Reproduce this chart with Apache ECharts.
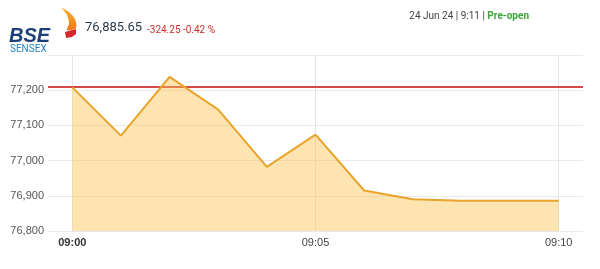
<!DOCTYPE html>
<html>
<head>
<meta charset="utf-8">
<script src="https://cdn.jsdelivr.net/npm/echarts@6/dist/echarts.min.js"></script>
<style>html,body{margin:0;padding:0;background:#fff;}#c{width:600px;height:269px;}</style>
</head>
<body>
<div id="c"></div>
<script>
var times = ['09:00','09:01','09:02','09:03','09:04','09:05','09:06','09:07','09:08','09:09','09:10'];
var values = [77208, 77071, 77238, 77145, 76982, 77074, 76915, 76890, 76886, 76886, 76885.65];
var xTickLabels = ['09:00','09:05','09:10'];
var yTicks = [76800, 76900, 77000, 77100, 77200, 77300];
var prevClose = 77209.90;
var lastPrice = '76,885.65';
var change = '-324.25 -0.42 %';
var stamp = '24 Jun 24 | 9:11 | ';
var session = 'Pre-open';

var chart = echarts.init(document.getElementById('c'), null, {renderer: 'canvas'});
var seriesData = times.map(function (t, i) { return [i, values[i]]; });
var xTickIdx = xTickLabels.map(function (l) { return times.indexOf(l); });

chart.setOption({
  animation: false,
  grid: {left: 48, right: 17, top: 55, bottom: 38},
  xAxis: {
    type: 'value', min: -0.5, max: 10.5,
    axisLine: {show: false}, axisTick: {show: false}, splitLine: {show: false},
    axisLabel: {
      customValues: xTickIdx,
      margin: 6,
      color: '#444', fontSize: 11, fontFamily: 'Liberation Sans, Arial, sans-serif',
      formatter: function (v) {
        var s = times[Math.round(v)];
        return Math.round(v) === 0 ? '{b|' + s + '}' : s;
      },
      rich: {b: {fontWeight: 'bold', color: '#333', fontSize: 11, fontFamily: 'Liberation Sans, Arial, sans-serif'}}
    }
  },
  yAxis: {
    type: 'value', min: yTicks[0], max: yTicks[yTicks.length - 1], interval: 100,
    axisLine: {show: false}, axisTick: {show: false},
    splitLine: {lineStyle: {color: '#e9e9e9', width: 1}},
    axisLabel: {
      margin: 4, color: '#555', fontSize: 11, fontFamily: 'Liberation Sans, Arial, sans-serif',
      showMaxLabel: false,
      formatter: function (v) { return v >= yTicks[yTicks.length - 1] ? '' : v.toLocaleString('en-US'); }
    }
  },
  series: [
    {
      type: 'line', data: [], z: 1, silent: true,
      markLine: {
        silent: true, symbol: 'none', z: 1, animation: false,
        label: {show: false},
        data: xTickIdx.map(function (i) { return {xAxis: i, lineStyle: {color: '#e6e6e6', width: 1, type: 'solid'}}; })
          .concat([{yAxis: prevClose, lineStyle: {color: '#d44a4a', width: 1.8, type: 'solid'}}])
      }
    },
    {
      type: 'line', data: seriesData, z: 3, symbol: 'none', smooth: false,
      lineStyle: {color: '#E9A42B', width: 2},
      areaStyle: {color: 'rgba(252,190,67,0.6)', origin: 'start'}
    }
  ],
  graphic: [
    {type: 'polygon', shape: {points: [[62,8],[69,12],[75,19],[76,28],[67,30],[69,23],[67,15]], smooth: 0.3},
      style: {fill: {type: 'linear', x: 0, y: 0, x2: 0, y2: 1, colorStops: [{offset: 0, color: '#f9b233'}, {offset: 1, color: '#ee7a1a'}]}}},
    {type: 'polygon', shape: {points: [[65,32],[76,29],[76,34],[72,37],[66,38]]}, style: {fill: '#d8262d'}},
    {type: 'text', left: 9, top: 26, style: {text: 'BSE', fill: '#1d3f78', font: 'italic bold 20px Liberation Sans, Arial, sans-serif'}},
    {type: 'text', left: 10, top: 44, style: {text: 'SENSEX', fill: '#2a84c4', font: '10px Roboto, Arial, sans-serif'}},
    {type: 'text', left: 85, top: 21, style: {text: lastPrice, fill: '#2b3b4c', font: '13px Roboto, Arial, sans-serif'}},
    {type: 'text', left: 147, top: 25, style: {text: change, fill: '#c9302c', font: '10px Roboto, Arial, sans-serif'}},
    {type: 'text', right: 71, top: 11, style: {
      text: '{a|' + stamp + '}{b|' + session + '}',
      rich: {
        a: {fill: '#444', fontSize: 10, fontFamily: 'Roboto, Arial, sans-serif'},
        b: {fill: '#3aa536', fontSize: 10, fontWeight: 'bold', fontFamily: 'Roboto, Arial, sans-serif'}
      }
    }}
  ]
});
</script>
</body>
</html>
